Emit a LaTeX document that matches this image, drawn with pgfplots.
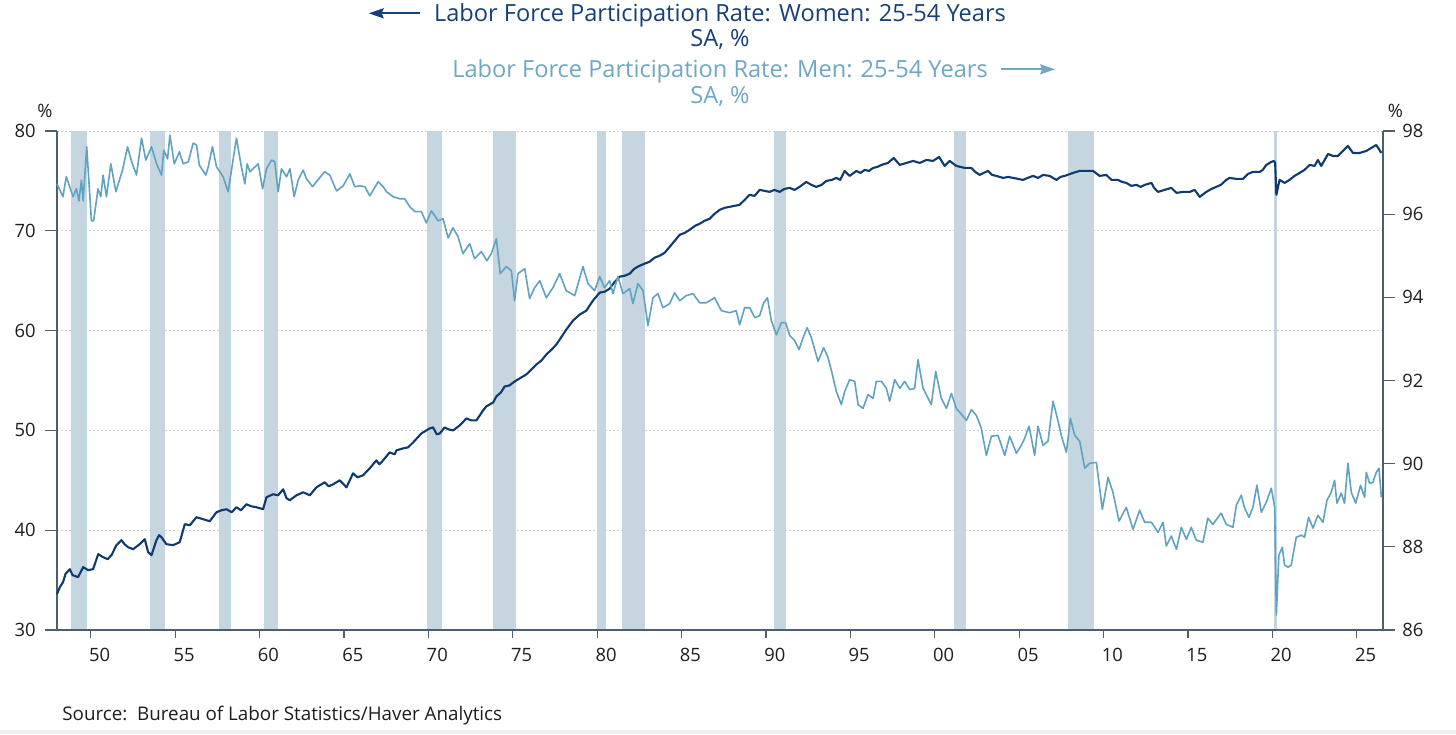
\documentclass[border=0pt]{standalone}
\usepackage{fontspec}
\setmainfont{Open Sans}
\usepackage{pgfplots}
\pgfplotsset{compat=1.18}
\usetikzlibrary{arrows.meta}
\definecolor{women}{RGB}{14,58,112}
\definecolor{men}{RGB}{96,163,192}
\definecolor{band}{RGB}{197,214,225}
\definecolor{axisc}{RGB}{75,95,115}
\definecolor{gridc}{RGB}{208,208,208}
\definecolor{womentitle}{RGB}{22,64,120}
\definecolor{mentitle}{RGB}{110,168,196}
\definecolor{txt}{RGB}{30,30,30}
\pgfplotsset{base/.style={
  at={(0,0)}, anchor=south west,
  width=663pt, height=249.5pt, scale only axis,
  xmin=1948, xmax=2026.56,
  axis line style={axisc, line width=0.6pt},
  tick align=outside,
  tick style={axisc, line width=0.6pt},
  /pgf/number format/assume math mode=true,
  tick label style={font=\fontsize{9.2}{11}\selectfont, text=txt},
  clip=false,
}}
\begin{document}
\begin{tikzpicture}
\fill[white] (-28.5pt,-52pt) rectangle (699.5pt,315pt);
\begin{axis}[base,
  ymin=30, ymax=80,
  axis x line=none, axis y line*=left,
  xtick={1950,1960,...,2020}, xticklabels={},
  xmajorgrids, ymajorgrids,
  ytick={30,40,...,80},
  major tick length=6pt,
  grid style={gridc, dash pattern=on 1pt off 1pt, line width=0.4pt},
  yticklabel style={anchor=east, inner sep=0pt, xshift=-4.5pt},
]
% recession bands
\addplot[fill=band, draw=none, forget plot] coordinates {(1948.83,30) (1949.79,30) (1949.79,80) (1948.83,80)} -- cycle;
\addplot[fill=band, draw=none, forget plot] coordinates {(1953.50,30) (1954.37,30) (1954.37,80) (1953.50,80)} -- cycle;
\addplot[fill=band, draw=none, forget plot] coordinates {(1957.58,30) (1958.29,30) (1958.29,80) (1957.58,80)} -- cycle;
\addplot[fill=band, draw=none, forget plot] coordinates {(1960.25,30) (1961.08,30) (1961.08,80) (1960.25,80)} -- cycle;
\addplot[fill=band, draw=none, forget plot] coordinates {(1969.92,30) (1970.83,30) (1970.83,80) (1969.92,80)} -- cycle;
\addplot[fill=band, draw=none, forget plot] coordinates {(1973.83,30) (1975.17,30) (1975.17,80) (1973.83,80)} -- cycle;
\addplot[fill=band, draw=none, forget plot] coordinates {(1980.00,30) (1980.50,30) (1980.50,80) (1980.00,80)} -- cycle;
\addplot[fill=band, draw=none, forget plot] coordinates {(1981.50,30) (1982.83,30) (1982.83,80) (1981.50,80)} -- cycle;
\addplot[fill=band, draw=none, forget plot] coordinates {(1990.50,30) (1991.17,30) (1991.17,80) (1990.50,80)} -- cycle;
\addplot[fill=band, draw=none, forget plot] coordinates {(2001.17,30) (2001.83,30) (2001.83,80) (2001.17,80)} -- cycle;
\addplot[fill=band, draw=none, forget plot] coordinates {(2007.92,30) (2009.42,30) (2009.42,80) (2007.92,80)} -- cycle;
\addplot[fill=band, draw=none, forget plot] coordinates {(2020.08,30) (2020.25,30) (2020.25,80) (2020.08,80)} -- cycle;
% women
\addplot[women, line width=1.05pt, line join=round, mark=none] coordinates {
(1948.0,33.6) (1948.17,34.3) (1948.36,34.8) (1948.5,35.6) (1948.76,36.1) (1948.92,35.5) (1949.25,35.3) (1949.55,36.3) (1949.84,36.0)
(1950.14,36.1) (1950.44,37.6) (1950.73,37.3) (1951.0,37.1) (1951.23,37.5) (1951.52,38.5) (1951.82,39.0) (1952.0,38.6) (1952.21,38.3)
(1952.51,38.1) (1952.9,38.6) (1953.2,39.1) (1953.4,37.8) (1953.6,37.5) (1953.89,39.0) (1954.05,39.5) (1954.19,39.3) (1954.48,38.6)
(1954.88,38.5) (1955.27,38.8) (1955.57,40.6) (1955.87,40.5) (1956.26,41.3) (1956.66,41.1) (1957.05,40.9) (1957.45,41.8) (1957.75,42.0)
(1958.04,42.1) (1958.35,41.8) (1958.63,42.3) (1958.9,42.0) (1959.22,42.6) (1959.5,42.4) (1959.82,42.3) (1960.21,42.1) (1960.41,43.3)
(1960.8,43.6) (1961.1,43.5) (1961.4,44.1) (1961.6,43.2) (1961.79,43.0) (1962.19,43.5) (1962.58,43.8) (1962.98,43.5) (1963.37,44.3)
(1963.86,44.8) (1964.1,44.4) (1964.36,44.6) (1964.75,45.0) (1965.15,44.3) (1965.54,45.7) (1965.8,45.3) (1966.13,45.5) (1966.53,46.2)
(1966.92,47.0) (1967.1,46.6) (1967.32,47.0) (1967.71,47.8) (1968.0,47.6) (1968.11,48.0) (1968.5,48.2) (1968.8,48.3) (1969.1,48.8)
(1969.59,49.7) (1970.08,50.2) (1970.28,50.3) (1970.5,49.6) (1970.68,49.7) (1970.97,50.3) (1971.2,50.1) (1971.47,50.0) (1971.86,50.5)
(1972.26,51.2) (1972.55,51.0) (1972.85,51.0) (1973.24,52.0) (1973.43,52.4) (1973.84,52.8) (1974.03,53.4) (1974.3,53.8) (1974.52,54.4)
(1974.8,54.5) (1975.11,54.9) (1975.5,55.3) (1975.8,55.6) (1976.1,56.1) (1976.4,56.6) (1976.7,57.0) (1976.99,57.6) (1977.3,58.1)
(1977.58,58.6) (1977.9,59.4) (1978.17,60.1) (1978.57,61.0) (1978.96,61.6) (1979.36,62.0) (1979.75,63.0) (1980.15,63.8) (1980.45,63.9)
(1980.74,64.2) (1981.0,64.8) (1981.33,65.4) (1981.63,65.5) (1981.93,65.7) (1982.2,66.2) (1982.52,66.5) (1982.8,66.7) (1983.11,66.9)
(1983.4,67.3) (1983.7,67.5) (1984.0,67.8) (1984.3,68.4) (1984.6,69.0) (1984.89,69.6) (1985.2,69.8) (1985.48,70.1) (1985.8,70.5)
(1986.07,70.7) (1986.36,71.0) (1986.66,71.2) (1986.96,71.7) (1987.26,72.1) (1987.55,72.3) (1987.85,72.4) (1988.14,72.5) (1988.44,72.6)
(1988.74,73.1) (1989.03,73.6) (1989.33,73.5) (1989.63,74.1) (1989.92,74.0) (1990.22,73.9) (1990.5,74.1) (1990.81,73.9) (1991.1,74.2)
(1991.4,74.3) (1991.7,74.1) (1991.99,74.4) (1992.39,74.9) (1992.7,74.6) (1992.98,74.4) (1993.3,74.6) (1993.58,75.0) (1993.9,75.1)
(1994.17,75.3) (1994.4,75.1) (1994.66,76.0) (1994.96,75.5) (1995.36,76.0) (1995.6,75.8) (1995.85,76.1) (1996.1,76.0) (1996.35,76.3)
(1996.6,76.4) (1996.84,76.6) (1997.23,76.8) (1997.57,77.3) (1997.93,76.6) (1998.32,76.8) (1998.72,77.0) (1999.11,76.8) (1999.51,77.1)
(1999.9,77.0) (2000.26,77.4) (2000.59,76.5) (2000.89,77.0) (2001.28,76.5) (2001.78,76.3) (2002.17,76.3) (2002.4,75.9) (2002.67,75.6)
(2002.9,75.8) (2003.16,76.0) (2003.4,75.6) (2003.65,75.5) (2004.05,75.3) (2004.35,75.4) (2004.64,75.3) (2004.95,75.2) (2005.23,75.1)
(2005.5,75.3) (2005.83,75.5) (2006.12,75.3) (2006.42,75.6) (2006.81,75.5) (2007.21,75.1) (2007.45,75.4) (2007.7,75.5) (2008.19,75.8)
(2008.59,76.0) (2008.98,76.0) (2009.38,76.0) (2009.77,75.5) (2010.17,75.6) (2010.47,75.1) (2010.86,75.1) (2011.1,74.9) (2011.35,74.8)
(2011.65,74.5) (2011.95,74.6) (2012.2,74.4) (2012.44,74.6) (2012.84,74.8) (2013.0,74.3) (2013.23,73.9) (2013.62,74.1) (2014.02,74.3)
(2014.32,73.8) (2014.71,73.9) (2015.11,73.9) (2015.4,74.1) (2015.7,73.4) (2016.09,73.9) (2016.4,74.2) (2016.68,74.4) (2016.95,74.6)
(2017.27,75.1) (2017.47,75.3) (2017.87,75.2) (2018.26,75.2) (2018.56,75.7) (2018.85,75.9) (2019.25,75.9) (2019.44,76.1) (2019.64,76.6)
(2019.94,76.9) (2020.1,77.0) (2020.17,76.8) (2020.24,73.6) (2020.43,75.1) (2020.73,74.8) (2021.02,75.1) (2021.32,75.5) (2021.62,75.8)
(2021.91,76.1) (2022.21,76.6) (2022.51,76.5) (2022.7,77.1) (2022.9,76.5) (2023.3,77.7) (2023.59,77.5) (2023.89,77.5) (2024.18,78.0)
(2024.48,78.5) (2024.78,77.8) (2025.17,77.8) (2025.57,78.0) (2025.86,78.3) (2026.16,78.6) (2026.46,77.8)
};
\coordinate (TL) at (rel axis cs:0,1);
\coordinate (TR) at (rel axis cs:1,1);
\coordinate (TC) at (rel axis cs:0.5,1);
\coordinate (BL) at (rel axis cs:0,0);
\end{axis}
\begin{axis}[base,
  ymin=86, ymax=98,
  axis y line*=right, axis x line=none,
  ytick={86,88,...,98},
  major tick length=6pt,
  yticklabel style={anchor=west, inner sep=0pt, xshift=3.5pt},
]
\addplot[men, line width=0.8pt, line join=round, mark=none] coordinates {
(1948.0,96.73) (1948.35,96.42) (1948.55,96.90) (1948.75,96.66) (1948.95,96.42) (1949.15,96.61) (1949.3,96.32) (1949.45,96.82) (1949.55,96.32)
(1949.76,97.62) (1950.04,95.84) (1950.17,95.84) (1950.43,96.61) (1950.6,96.42) (1950.73,96.94) (1950.93,96.42) (1951.19,97.21) (1951.49,96.54)
(1951.88,97.06) (1952.18,97.62) (1952.42,97.26) (1952.71,96.94) (1953.01,97.83) (1953.26,97.30) (1953.6,97.62) (1953.9,97.21) (1954.19,96.94)
(1954.33,97.54) (1954.55,97.33) (1954.69,97.90) (1954.95,97.21) (1955.25,97.50) (1955.48,97.21) (1955.78,97.26) (1956.07,97.71) (1956.27,97.66)
(1956.43,97.18) (1956.82,96.94) (1956.96,97.14) (1957.21,97.62) (1957.45,97.14) (1957.84,96.90) (1958.14,96.54) (1958.63,97.83) (1958.89,97.21)
(1959.13,96.73) (1959.27,97.21) (1959.43,97.02) (1959.92,97.21) (1960.18,96.61) (1960.41,97.09) (1960.71,97.30) (1960.9,97.26) (1961.1,96.54)
(1961.3,97.09) (1961.6,96.90) (1961.8,97.09) (1962.05,96.42) (1962.29,96.82) (1962.58,97.06) (1962.78,96.85) (1963.14,96.66) (1963.37,96.78)
(1963.86,97.02) (1964.16,96.94) (1964.56,96.56) (1964.95,96.68) (1965.35,96.97) (1965.64,96.66) (1965.94,96.68) (1966.24,96.66) (1966.53,96.44)
(1967.03,96.78) (1967.32,96.66) (1967.52,96.54) (1967.91,96.42) (1968.31,96.37) (1968.6,96.37) (1968.9,96.18) (1969.2,96.06) (1969.59,96.06)
(1969.88,95.79) (1970.18,96.08) (1970.58,95.84) (1970.87,95.89) (1971.17,95.43) (1971.46,95.67) (1971.76,95.46) (1972.05,95.05) (1972.45,95.29)
(1972.74,94.93) (1973.14,95.10) (1973.47,94.88) (1973.73,95.05) (1974.03,95.41) (1974.26,94.57) (1974.62,94.74) (1974.92,94.64) (1975.11,93.92)
(1975.31,94.57) (1975.71,94.69) (1976.0,93.97) (1976.3,94.23) (1976.6,94.40) (1976.99,93.99) (1977.38,94.23) (1977.78,94.57) (1978.17,94.16)
(1978.67,94.04) (1979.16,94.74) (1979.46,94.33) (1979.85,94.16) (1980.15,94.50) (1980.44,94.23) (1980.74,94.40) (1980.94,94.09) (1981.23,94.50)
(1981.53,94.09) (1981.93,94.21) (1982.12,93.85) (1982.42,94.33) (1982.72,94.16) (1983.01,93.32) (1983.31,93.99) (1983.6,94.09) (1983.9,93.75)
(1984.3,93.85) (1984.59,94.11) (1984.89,93.92) (1985.28,94.04) (1985.68,94.09) (1986.07,93.87) (1986.47,93.87) (1986.96,93.99) (1987.36,93.68)
(1987.85,93.63) (1988.24,93.68) (1988.44,93.34) (1988.74,93.75) (1989.04,93.75) (1989.34,93.51) (1989.63,93.56) (1989.87,93.87) (1990.09,93.99)
(1990.32,93.44) (1990.62,93.10) (1990.92,93.39) (1991.17,93.39) (1991.41,93.08) (1991.71,92.96) (1991.96,92.74) (1992.2,93.03) (1992.44,93.27)
(1992.69,93.03) (1993.09,92.46) (1993.42,92.79) (1993.68,92.55) (1993.94,92.14) (1994.17,91.74) (1994.47,91.42) (1994.67,91.74) (1994.96,92.02)
(1995.26,91.98) (1995.46,91.42) (1995.75,91.33) (1996.05,91.66) (1996.35,91.57) (1996.54,91.98) (1996.84,91.98) (1997.14,91.81) (1997.33,91.50)
(1997.63,92.02) (1997.93,91.81) (1998.22,91.98) (1998.52,91.78) (1998.81,91.81) (1999.01,92.50) (1999.31,91.81) (1999.5,91.66) (1999.8,91.42)
(2000.06,92.22) (2000.39,91.57) (2000.69,91.33) (2000.99,91.69) (2001.28,91.33) (2001.68,91.14) (2001.88,91.04) (2002.17,91.30) (2002.47,91.16)
(2002.76,90.85) (2003.06,90.20) (2003.36,90.66) (2003.75,90.68) (2004.15,90.20) (2004.44,90.66) (2004.84,90.25) (2005.13,90.44) (2005.33,90.61)
(2005.59,90.90) (2005.92,90.20) (2006.12,90.90) (2006.42,90.44) (2006.71,90.54) (2007.01,91.50) (2007.31,91.02) (2007.5,90.68) (2007.8,90.27)
(2008.04,91.09) (2008.29,90.68) (2008.59,90.54) (2008.89,89.89) (2009.18,90.01) (2009.58,90.03) (2009.93,88.90) (2010.27,89.67) (2010.56,89.31)
(2010.92,88.62) (2011.35,88.95) (2011.75,88.42) (2012.14,88.88) (2012.44,88.59) (2012.84,88.59) (2013.23,88.35) (2013.53,88.59) (2013.72,88.02)
(2014.02,88.26) (2014.32,87.94) (2014.61,88.47) (2014.91,88.18) (2015.2,88.47) (2015.49,88.16) (2015.89,88.11) (2016.18,88.69) (2016.48,88.54)
(2016.97,88.81) (2017.27,88.54) (2017.67,88.47) (2017.87,89.00) (2018.16,89.24) (2018.36,88.93) (2018.62,88.71) (2018.85,88.95) (2019.09,89.48)
(2019.35,88.83) (2019.64,89.07) (2019.94,89.41) (2020.14,88.95) (2020.24,86.36) (2020.39,87.80) (2020.59,87.99) (2020.73,87.56) (2020.93,87.51)
(2021.12,87.56) (2021.42,88.23) (2021.72,88.28) (2021.91,88.23) (2022.15,88.71) (2022.41,88.45) (2022.7,88.76) (2023.0,88.59) (2023.24,89.12)
(2023.49,89.31) (2023.69,89.60) (2023.83,89.05) (2024.09,89.29) (2024.28,89.05) (2024.48,90.01) (2024.68,89.31) (2024.94,89.05) (2025.23,89.48)
(2025.47,89.19) (2025.57,89.79) (2025.76,89.53) (2025.96,89.55) (2026.16,89.79) (2026.32,89.89) (2026.46,89.19)
};
\end{axis}
\begin{axis}[base,
  ymin=30, ymax=80,
  axis x line*=bottom, axis y line=none,
  xtick={1950,1955,...,2025},
  xticklabels={50,55,60,65,70,75,80,85,90,95,00,05,10,15,20,25},
  major tick length=4pt,
  xticklabel style={anchor=north west, xshift=-1pt, inner sep=0pt, yshift=-5pt},
]
\addplot[draw=none, forget plot] coordinates {(1948,30) (2026,80)};
\end{axis}
% percent signs
\node[anchor=center, font=\fontsize{9.2}{11}\selectfont, text=txt] at ([xshift=-6pt,yshift=10.25pt]TL) {\%};
\node[anchor=center, font=\fontsize{9.2}{11}\selectfont, text=txt] at ([xshift=6.25pt,yshift=10.15pt]TR) {\%};
% titles
\node[anchor=base, inner sep=0pt, font=\fontsize{11.8}{13}\selectfont, text=womentitle] (wt) at ([yshift=54.85pt]TC) {Labor Force Participation Rate: Women: 25-54 Years};
\node[anchor=base, inner sep=0pt, font=\fontsize{11.8}{13}\selectfont, text=womentitle] at ([yshift=42.15pt]TC) {SA, \%};
\node[anchor=base, inner sep=0pt, font=\fontsize{11.8}{13}\selectfont, text=mentitle] (mt) at ([yshift=26.85pt]TC) {Labor Force Participation Rate: Men: 25-54 Years};
\node[anchor=base, inner sep=0pt, font=\fontsize{11.8}{13}\selectfont, text=mentitle] at ([yshift=13.85pt]TC) {SA, \%};
\draw[womentitle, line width=1pt, -{Stealth[length=7.5pt,width=5pt,inset=1pt]}] ([xshift=-7pt,yshift=4pt]wt.base west) -- ++(-25.5pt,0pt);
\draw[mentitle, line width=1pt, -{Stealth[length=7.5pt,width=5pt,inset=1pt]}] ([xshift=6.5pt,yshift=4pt]mt.base east) -- ++(27pt,0pt);
% source
\node[anchor=base west, inner sep=0pt, font=\fontsize{9.4}{11}\selectfont, text=txt] at ([xshift=2.5pt,yshift=-45pt]BL) {Source:\ \ Bureau of Labor Statistics/Haver Analytics};
\fill[gray!12] (-28.5pt,-52pt) rectangle (699.5pt,-50pt);
\pgfresetboundingbox
\path[use as bounding box] (-28.5pt,-52pt) rectangle (699.5pt,315pt);
\end{tikzpicture}
\end{document}
